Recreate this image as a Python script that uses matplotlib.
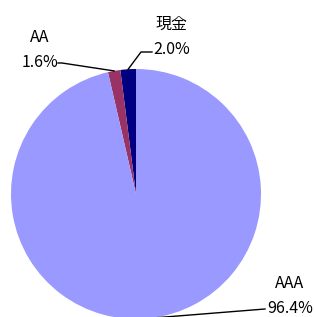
import matplotlib
matplotlib.use("Agg")
from matplotlib import pyplot as plt
import numpy as np

plt.rcParams['font.family'] = ['Noto Sans CJK JP', 'DejaVu Sans']

# 資産構成
labels = ["現金", "AA", "AAA"]
shares = [2.0, 1.6, 96.4]
colours = ["#000080", "#993366", "#9999FF"]

W, H = 315, 317
fig = plt.figure(figsize=(W / 100, H / 100), dpi=100)
ax = fig.add_axes([0, 0, 1, 1])

cx, cy, r = 136, H - 194, 125
wedges, _ = ax.pie(shares, colors=colours, startangle=90, counterclock=True,
                   center=(cx, cy), radius=r, frame=True,
                   wedgeprops=dict(linewidth=0))
ax.set_xlim(0, W)
ax.set_ylim(0, H)
ax.set_aspect("equal")
ax.axis("off")

# label positions (pixel coords from top) and leader lines
text_pos = [(172, 37), (40, 50), (290, 296)]
line_pts = [
    [(141, 52), (152, 52)],
    [(62, 63), (58, 63)],
    [(265, 309)],
]

for w, lab, val, (tx, ty), pts in zip(wedges, labels, shares, text_pos, line_pts):
    mid = np.deg2rad((w.theta1 + w.theta2) / 2)
    px = cx + r * np.cos(mid)
    py = cy + r * np.sin(mid)
    xs = [px] + [p[0] for p in pts]
    ys = [py] + [H - p[1] for p in pts]
    ax.plot(xs, ys, color="black", linewidth=1)
    ax.text(tx, H - ty, f"{lab}\n{val:.1f}%", ha="center", va="center",
            fontsize=11.5, linespacing=1.6)

fig.savefig("out.png", dpi=100)
